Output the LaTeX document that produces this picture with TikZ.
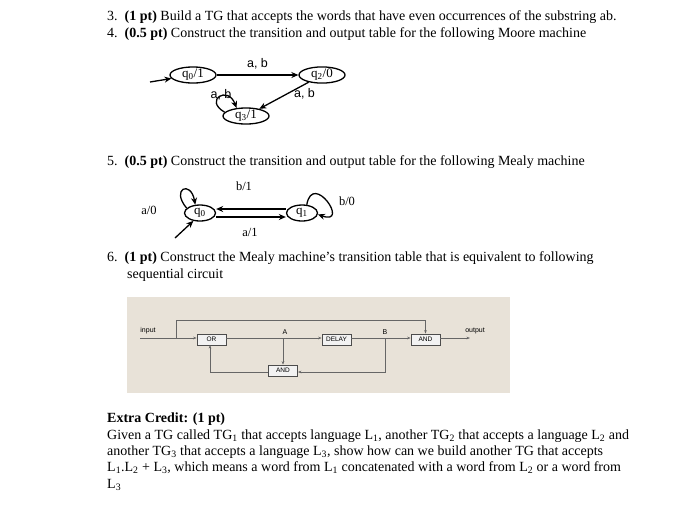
\documentclass[tikz,border=0pt]{standalone}
\usepackage{fontspec}
\setmainfont{Liberation Serif}
\setsansfont{Liberation Sans}
\usetikzlibrary{shapes.geometric,arrows.meta}
\begin{document}
\begin{tikzpicture}[x=1pt,y=-1pt,
  txt/.style={anchor=base west,inner sep=0,font=\fontsize{14}{16}\selectfont},
  st/.style={draw,ellipse,line width=1.3pt,inner sep=0,minimum width=46,minimum height=16,font=\fontsize{13}{14}\selectfont},
  mst/.style={draw,ellipse,line width=1.3pt,inner sep=0,minimum width=31,minimum height=16,font=\fontsize{13}{14}\selectfont},
  lab/.style={font=\sffamily\fontsize{12.5}{14}\selectfont,inner sep=1},
  mlab/.style={font=\fontsize{12.5}{14}\selectfont,inner sep=1},
  arr/.style={line width=1.3pt,-{Stealth[length=7pt,width=6pt]}},
  gate/.style={draw=black!70,line width=0.8pt,fill=black!5,minimum width=29,minimum height=11,inner sep=0,font=\sffamily\fontsize{6.5}{7}\selectfont},
  wire/.style={black!60,line width=0.8pt},
  warr/.style={wire,-{Stealth[length=3.5pt]}},
  clab/.style={font=\sffamily\fontsize{7}{8}\selectfont,inner sep=0}]
\useasboundingbox (0,0) rectangle (700,507);
\fill[white] (0,0) rectangle (700,507);
\node[txt] (l3) at (107,20) {3.\ \ \textbf{(1 pt)} Build a TG that accepts the words that have even occurrences of the substring ab.};
\node[txt] (l4) at (107,37) {4.\ \ \textbf{(0.5 pt)} Construct the transition and output table for the following Moore machine};
% Moore
\node[st] (m0) at (193,75) {q\textsubscript{0}/1};
\node[st] (m2) at (322,75) {q\textsubscript{2}/0};
\node[st] (m3) at (246,116) {q\textsubscript{3}/1};
\coordinate (mi) at (150,82);
\draw[arr] (mi) -- (m0);
\draw[arr] (m0) -- node[lab,above=4pt]{a, b} (m2);
\draw[arr] (m2) -- node[lab,right=6pt,pos=0.45]{a, b} (m3);
\draw[arr] (m3.170) to[out=150,in=110,looseness=5] (m3.140);
\node[lab] (ml) at (221,95) {a, b};
\node[txt] (l5) at (107,165) {5.\ \ \textbf{(0.5 pt)} Construct the transition and output table for the following Mealy machine};
% Mealy
\node[mst] (q0) at (200,213) {q\textsubscript{0}};
\node[mst] (q1) at (302,213) {q\textsubscript{1}};
\draw[arr] ([yshift=-4]q0.east) -- ([yshift=-4]q1.west);
\draw[arr] ([yshift=4]q1.west) -- ([yshift=4]q0.east);
\node[mlab] at (244,186) {b/1};
\node[mlab] at (250,232) {a/1};
\draw[arr] (q0.160) to[out=130,in=100,looseness=7] (q0.120);
\node[mlab] at (149,210) {a/0};
\draw[arr] (q1.60) to[out=80,in=-20,looseness=6] (q1.-5);
\node[mlab] at (347,201) {b/0};
\coordinate (qi) at (175,238);
\draw[arr] (qi) -- (q0.230);
\node[txt] (l6) at (107,261) {6.\ \ \textbf{(1 pt)} Construct the Mealy machine's transition table that is equivalent to following};
\node[txt] (l6b) at (127,278) {sequential circuit};
% circuit
\fill[fill={rgb,255:red,232;green,226;blue,216}] (127,297) rectangle (510,393);
\node[gate] (or) at (211.5,339.5) {OR};
\node[gate] (dl) at (336.5,339.5) {DELAY};
\node[gate] (a1) at (425.5,339.5) {AND};
\node[gate] (a2) at (283,370.5) {AND};
\node[clab] at (148,331) {input};
\node[clab] at (475,331) {output};
\node[clab] at (285,332) {A};
\node[clab] at (385,332) {B};
\coordinate (in) at (140,338);
\coordinate (out) at (470,338);
\draw[warr] (in) -- (or.west|-in);
\draw[warr] (176,338) -- (176,320) -| (a1.north);
\draw[warr] (or.east|-in) -- (dl.west|-in);
\draw[warr] (dl.east|-in) -- (a1.west|-in);
\draw[warr] (a1.east|-in) -- (out);
\draw[warr] (283,338) -- (a2.north);
\draw[warr] (385,338) -- (385,372) -- (a2.east|-0,372);
\draw[warr] (a2.west|-0,372) -| (210,372) -- (210,345);
% extra
\node[txt] (e1) at (107,422) {\textbf{Extra Credit: (1 pt)}};
\node[txt] (e2) at (107,439) {Given a TG called TG\textsubscript{1} that accepts language L\textsubscript{1}, another TG\textsubscript{2} that accepts a language L\textsubscript{2} and};
\node[txt] (e3) at (107,455) {another TG\textsubscript{3} that accepts a language L\textsubscript{3}, show how can we build another TG that accepts};
\node[txt] (e4) at (107,471) {L\textsubscript{1}.L\textsubscript{2} + L\textsubscript{3}, which means a word from L\textsubscript{1} concatenated with a word from L\textsubscript{2} or a word from};
\node[txt] (e5) at (107,488) {L\textsubscript{3}};
\end{tikzpicture}
\end{document}
